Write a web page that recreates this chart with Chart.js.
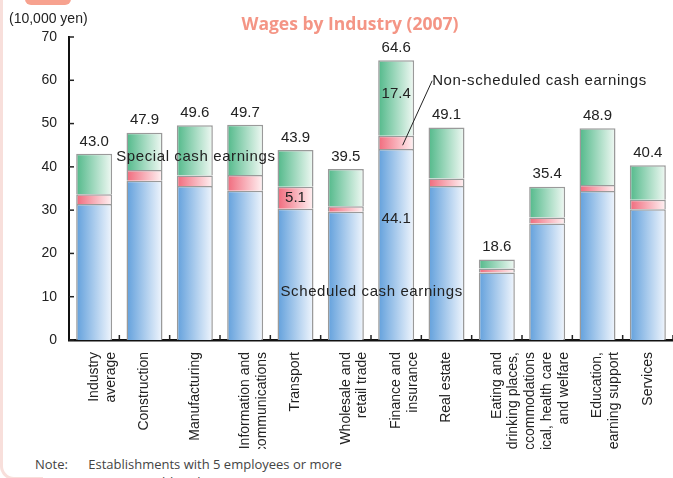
<!DOCTYPE html>
<html><head><meta charset="utf-8">
<script src="https://cdn.jsdelivr.net/npm/chart.js@4/dist/chart.umd.min.js"></script>
<style>
html,body{margin:0;padding:0;background:#fff;}
#wrap{position:relative;width:673px;height:478px;overflow:hidden;background:#fff;font-family:"Liberation Sans",Arial,sans-serif;}
#c{position:absolute;left:0;top:0;}
#title{position:absolute;left:0;width:700px;top:11px;text-align:center;font:bold 17.5px "Open Sans",sans-serif;color:#f49585;}
#unit{position:absolute;left:9px;top:10px;font:14px "Liberation Sans",Arial,sans-serif;color:#222;}
#note{position:absolute;left:0;top:449px;width:673px;height:40px;background:#fff;font:13px "Open Sans",sans-serif;color:#444;}
#note div{position:absolute;left:35px;white-space:pre;}
#edge{position:absolute;left:0;top:-20px;width:40px;height:497px;border-left:3px solid #f8dfdb;border-bottom:3px solid #f8dfdb;border-bottom-left-radius:14px;}
#tab{position:absolute;left:25px;top:-8px;width:46px;height:13px;background:#f7a28f;border-radius:6px;}
</style></head>
<body>
<div id="wrap">
<canvas id="c" width="673" height="478"></canvas>
<div id="note"><div style="top:6px">Note:      Establishments with 5 employees or more</div><div style="top:24px">Source:    TMG “Monthly Labour Survey”</div></div>
<div id="edge"></div>
<div id="tab"></div>
<div id="title">Wages by Industry (2007)</div>
<div id="unit">(10,000 yen)</div>
</div>
<script>
const categories = [
  ["Industry","average"],
  ["Construction"],
  ["Manufacturing"],
  ["Information and","communications"],
  ["Transport"],
  ["Wholesale and","retail trade"],
  ["Finance and","insurance"],
  ["Real estate"],
  ["Eating and","drinking places,","accommodations"],
  ["Medical, health care","and welfare"],
  ["Education,","learning support"],
  ["Services"]
];
const scheduled    = [31.4, 36.8, 35.6, 34.5, 30.3, 29.6, 44.1, 35.6, 15.6, 26.9, 34.4, 30.2];
const nonScheduled = [ 2.3,  2.5,  2.4,  3.6,  5.1,  1.3,  3.1,  1.7,  0.9,  1.4,  1.4,  2.2];
const special      = [ 9.3,  8.6, 11.6, 11.6,  8.5,  8.6, 17.4, 11.8,  2.1,  7.1, 13.1,  8.0];
const totals       = ["43.0","47.9","49.6","49.7","43.9","39.5","64.6","49.1","18.6","35.4","48.9","40.4"];
const yTicks = [0,10,20,30,40,50,60,70];

function grad(left, right){
  return function(ctx){
    const chart = ctx.chart;
    const xs = chart.scales.x;
    if(!chart.chartArea || !xs || ctx.dataIndex === undefined) return left;
    const cx = xs.getPixelForValue(ctx.dataIndex);
    const hw = xs.width/categories.length*0.715/2;
    const g = chart.ctx.createLinearGradient(cx-hw,0,cx+hw,0);
    g.addColorStop(0,left); g.addColorStop(1,right);
    return g;
  };
}

const txtFont = '15px "Liberation Sans", Arial, sans-serif';
const overlay = {
  id:'overlay',
  afterDatasetsDraw(chart){
    const c = chart.ctx, xs = chart.scales.x, ys = chart.scales.y, a = chart.chartArea;
    c.save();
    c.strokeStyle='#222'; c.lineWidth=1.5;
    yTicks.forEach(v=>{ const y=ys.getPixelForValue(v); c.beginPath(); c.moveTo(a.left,y); c.lineTo(a.left+5,y); c.stroke(); });
    for(let i=0;i<categories.length;i++){
      const x = xs.getPixelForValue(i)+xs.width/categories.length/2;
      c.beginPath(); c.moveTo(x,a.bottom); c.lineTo(x,a.bottom-5); c.stroke();
    }
    c.fillStyle='#222'; c.font=txtFont; c.textAlign='center'; c.textBaseline='bottom';
    const top = chart.getDatasetMeta(2).data;
    totals.forEach((t,i)=>{ c.fillText(t, top[i].x, top[i].y-5); });
    c.textBaseline='middle';
    const fin = 6, tr = 4;
    c.fillText(special[fin].toFixed(1), xs.getPixelForValue(fin), ys.getPixelForValue(scheduled[fin]+nonScheduled[fin]+special[fin]*0.55));
    c.fillText(scheduled[fin].toFixed(1), xs.getPixelForValue(fin), ys.getPixelForValue(scheduled[fin]*0.635));
    c.fillText(nonScheduled[tr].toFixed(1), xs.getPixelForValue(tr), ys.getPixelForValue(scheduled[tr]+nonScheduled[tr]/2));
    c.letterSpacing='0.6px';
    c.textAlign='left';
    c.fillText('Special cash earnings', xs.getPixelForValue(0)+22, ys.getPixelForValue(42.3));
    c.fillText('Scheduled cash earnings', xs.getPixelForValue(4)-15, ys.getPixelForValue(11.1));
    c.fillText('Non-scheduled cash earnings', xs.getPixelForValue(6)+36, ys.getPixelForValue(59.8));
    c.beginPath(); c.lineWidth=1; c.strokeStyle='#222';
    c.moveTo(xs.getPixelForValue(6)+36, ys.getPixelForValue(59.9));
    c.lineTo(xs.getPixelForValue(6)+6.5, ys.getPixelForValue(45.0));
    c.stroke();
    c.restore();
  }
};

new Chart(document.getElementById('c'), {
  type:'bar',
  data:{
    labels: categories,
    datasets:[
      {label:'Scheduled cash earnings', data:scheduled, backgroundColor:grad('#62a0dc','#f1f6fd'), borderColor:'#9a9a9a', borderWidth:1.5},
      {label:'Non-scheduled cash earnings', data:nonScheduled, backgroundColor:grad('#f06a7c','#fff3f4'), borderColor:'#9a9a9a', borderWidth:1.5},
      {label:'Special cash earnings', data:special, backgroundColor:grad('#52b98a','#f1f9f4'), borderColor:'#9a9a9a', borderWidth:1.5}
    ]
  },
  options:{
    responsive:false, animation:false,
    layout:{padding:{top:37,right:0,left:0,bottom:0}},
    plugins:{legend:{display:false}, tooltip:{enabled:false}, title:{display:false}},
    datasets:{bar:{categoryPercentage:1, barPercentage:0.715}},
    scales:{
      x:{stacked:true, grid:{display:false}, border:{display:true,color:'#111',width:2.5},
         ticks:{minRotation:90,maxRotation:90,autoSkip:false,color:'#222',font:{size:14,family:'"Liberation Sans", Arial, sans-serif'},padding:4},
         afterFit(s){ s.height = 138; }},
      y:{stacked:true, min:0, max:70, grid:{display:false,drawTicks:false}, border:{display:true,color:'#111',width:2},
         ticks:{stepSize:10,color:'#222',padding:12,font:{size:14,family:'"Liberation Sans", Arial, sans-serif'}},
         afterFit(s){ s.width = 69; }}
    }
  },
  plugins:[overlay]
});
</script>
</body></html>
